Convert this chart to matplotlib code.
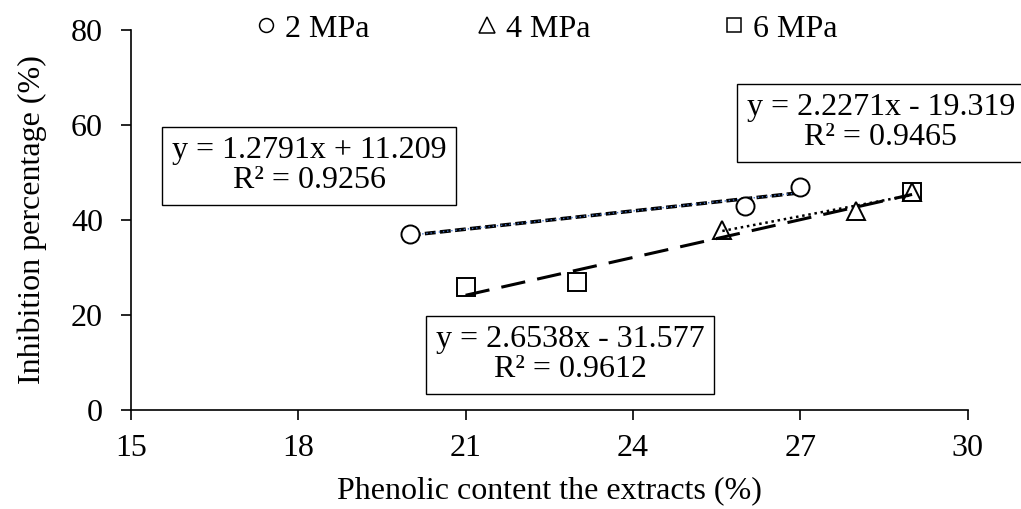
import numpy as np
import matplotlib.pyplot as plt
from matplotlib.lines import Line2D

plt.rcParams['font.family'] = ['Liberation Serif', 'DejaVu Serif']

# data
x_2mpa = [20, 26, 27]
y_2mpa = [37, 43, 47]
x_4mpa = [25.6, 28, 29]
y_4mpa = [38, 42, 46]
x_6mpa = [21, 23, 29]
y_6mpa = [26, 27, 46]

eq_2mpa = "y = 1.2791x + 11.209\nR² = 0.9256"
eq_4mpa = "y = 2.2271x - 19.319\nR² = 0.9465"
eq_6mpa = "y = 2.6538x - 31.577\nR² = 0.9612"

x_ticks = [15, 18, 21, 24, 27, 30]
y_ticks = [0, 20, 40, 60, 80]

FS = 23

fig = plt.figure(figsize=(10.21, 5.09), dpi=100)
ax = fig.add_axes([0.128, 0.1945, 0.82, 0.7465])

def trend(xs, ys):
    k, b = np.polyfit(xs, ys, 1)
    xx = np.array([min(xs), max(xs)])
    return xx, k * xx + b

# trendlines
tx, ty = trend(x_2mpa, y_2mpa)
ax.plot(tx, ty, color='black', lw=2.6, ls=(0, (3, 1.2)))
ax.plot(tx, ty, color='#4472c4', lw=1.0, ls=(0, (1, 2)))
tx, ty = trend(x_6mpa, y_6mpa)
ax.plot(tx, ty, color='black', lw=2.2, ls=(0, (8, 4)))
tx, ty = trend(x_4mpa, y_4mpa)
ax.plot(tx, ty, color='black', lw=1.8, ls=(0, (1, 1.5)))

# points
ax.plot(x_2mpa, y_2mpa, 'o', ms=13, mfc='white', mec='black', mew=1.4)
ax.plot(x_4mpa, y_4mpa, '^', ms=13, mfc='none', mec='black', mew=1.4)
ax.plot(x_6mpa, y_6mpa, 's', ms=12.5, mfc='none', mec='black', mew=1.4)

box = dict(boxstyle='square,pad=0.3', fc='white', ec='black', lw=1)
ax.text(18.2, 51.4, eq_2mpa, ha='center', va='center', fontsize=FS, bbox=box, linespacing=1.05)
ax.text(28.44, 60.5, eq_4mpa, ha='center', va='center', fontsize=FS, bbox=box, linespacing=1.05, clip_on=False)
ax.text(22.87, 11.6, eq_6mpa, ha='center', va='center', fontsize=FS, bbox=box, linespacing=1.05)

ax.set_xlim(15, 30)
ax.set_ylim(0, 80)
ax.set_xticks(x_ticks)
ax.set_yticks(y_ticks)
ax.spines['top'].set_visible(False)
ax.spines['right'].set_visible(False)
ax.spines['left'].set_linewidth(1.2)
ax.spines['bottom'].set_linewidth(1.2)
ax.tick_params(direction='out', length=7, width=1.2, labelsize=FS)
ax.tick_params(axis='x', pad=10)
ax.tick_params(axis='y', pad=13)

ax.set_xlabel("Phenolic content the extracts (%)", fontsize=FS, labelpad=10)
ax.set_ylabel("Inhibition percentage (%)", fontsize=FS, labelpad=17)

# legend entries placed as separate items along the top
legend_items = [('o', '2 MPa', 258, 10), ('^', '4 MPa', 479, 12), ('s', '6 MPa', 726, 10.5)]
for mk, lab, px, size in legend_items:
    h = Line2D([], [], marker=mk, ls='none', ms=size, mfc='none', mec='black', mew=1.1)
    fig.legend([h], [lab], loc='center left', bbox_to_anchor=(px / 1021, 1 - 29 / 509),
               frameon=False, fontsize=FS, handlelength=0.5, handletextpad=0.35,
               borderpad=0, borderaxespad=0)

fig.savefig('out.png', dpi=100)
